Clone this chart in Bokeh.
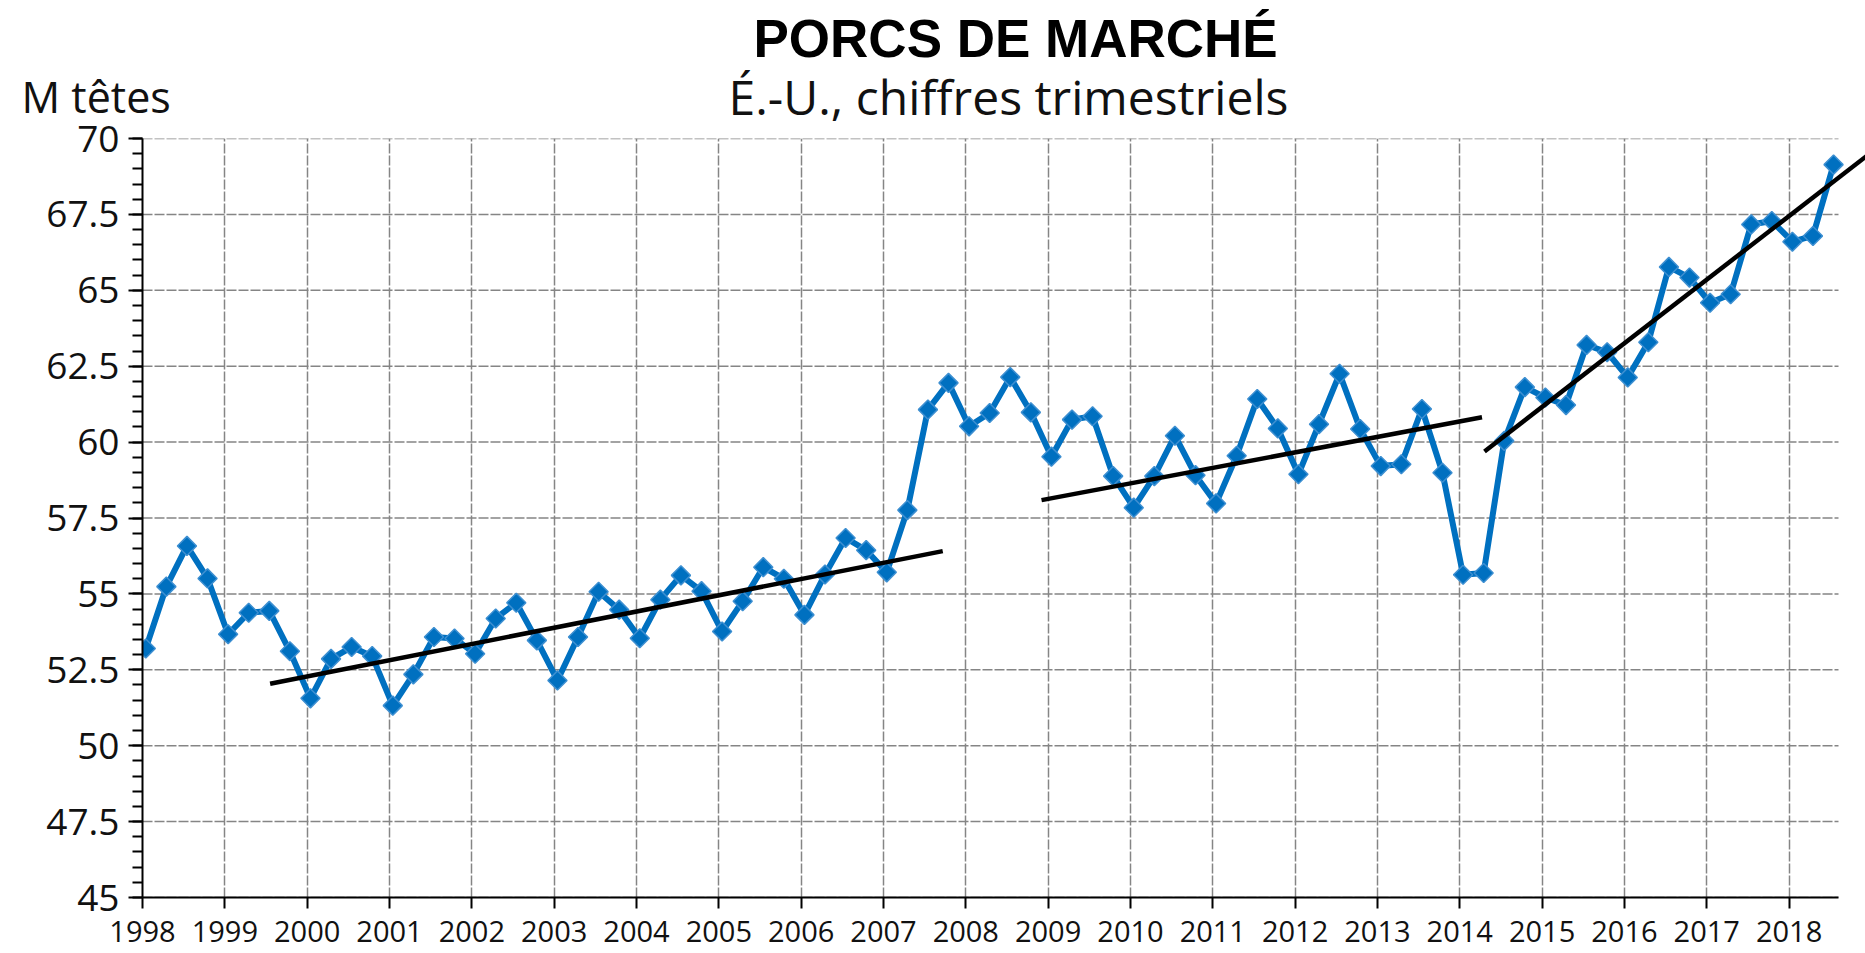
import math
from bokeh.plotting import figure
from bokeh.models import Range1d, FixedTicker, NumeralTickFormatter, Title
from bokeh.embed import file_html
from bokeh.resources import INLINE

# ---------------- data ----------------
start_year = 1998
# US market hogs inventory, million head, quarterly (1998 Q1 .. 2018 Q3)
market_hogs = [
    53.20, 55.24, 56.58, 55.51,   # 1998
    53.67, 54.38, 54.44, 53.11,   # 1999
    51.56, 52.86, 53.25, 52.95,   # 2000
    51.32, 52.35, 53.58, 53.53,   # 2001
    53.03, 54.19, 54.71, 53.47,   # 2002
    52.15, 53.58, 55.07, 54.48,   # 2003
    53.54, 54.81, 55.61, 55.09,   # 2004
    53.76, 54.76, 55.88, 55.50,   # 2005
    54.31, 55.64, 56.84, 56.44,   # 2006
    55.71, 57.76, 61.07, 61.95,   # 2007
    60.52, 60.96, 62.14, 60.98,   # 2008
    59.52, 60.74, 60.85, 58.88,   # 2009
    57.84, 58.88, 60.21, 58.91,   # 2010
    57.98, 59.55, 61.42, 60.45,   # 2011
    58.94, 60.59, 62.25, 60.43,   # 2012
    59.21, 59.27, 61.09, 58.99,   # 2013
    55.63, 55.69, 60.04, 61.81,   # 2014
    61.47, 61.22, 63.20, 62.96,   # 2015
    62.13, 63.29, 65.77, 65.42,   # 2016
    64.59, 64.87, 67.17, 67.28,   # 2017
    66.60, 66.79, 69.14,          # 2018
]

# trend line segments (start year, start value, end year, end value)
trend_x0 = [1999.55, 2008.92, 2014.30]
trend_y0 = [52.04, 58.09, 59.69]
trend_x1 = [2007.72, 2014.27, 2018.94]
trend_y1 = [56.41, 60.82, 69.42]

year_ticks = list(range(1998, 2019))
value_ticks = [45, 47.5, 50, 52.5, 55, 57.5, 60, 62.5, 65, 67.5, 70]
value_minor_ticks = [45 + 0.5 * k for k in range(51)]

title_text = "PORCS DE MARCHÉ"
subtitle_text = "É.-U., chiffres trimestriels"
unit_text = "M têtes"

# quarter dates as fractional years (mid-first-month of each quarter)
quarter_x = [start_year + i * 0.25 + 0.04 for i in range(len(market_hogs))]

# ---------------- figure ----------------
axis_start, axis_end = 1998.0, 2018.6      # extent of the plotted axis
view_end = axis_end + 27 / 82.33           # frame runs on to the page edge

p = figure(
    width=1865, height=953, title=None,
    x_range=Range1d(axis_start, view_end), y_range=Range1d(45, 70),
    output_backend="svg", toolbar_location=None,
    min_border_left=142, min_border_right=0,
    min_border_top=0, min_border_bottom=56,
    background_fill_color="white", border_fill_color="white",
)
p.outline_line_color = None

# grids
grid_color = "#858585"
p.xgrid.ticker = FixedTicker(ticks=year_ticks)
p.xgrid.grid_line_color = grid_color
p.xgrid.grid_line_width = 1.5
p.xgrid.grid_line_dash = "10 2"
p.ygrid.visible = False
hgrid = p.segment(x0=[axis_start] * len(value_ticks), y0=value_ticks,
                  x1=[axis_end] * len(value_ticks), y1=value_ticks,
                  line_color=grid_color, line_width=1.5, line_dash="10 2")
hgrid.level = "underlay"

# data
blue = "#0070C0"
p.line(quarter_x, market_hogs, line_color=blue, line_width=6)
p.scatter(quarter_x, market_hogs, marker="square", size=13.5, angle=math.pi / 4,
          fill_color=blue, line_color="#3d8fd1", line_width=1.5)
p.segment(trend_x0, trend_y0, trend_x1, trend_y1, line_color="black", line_width=4.5)

# axes
xa = p.xaxis[0]
xa.ticker = FixedTicker(ticks=year_ticks)
xa.formatter = NumeralTickFormatter(format="0")
xa.bounds = (axis_start, axis_end)
xa.axis_line_color = "black"
xa.axis_line_width = 2
xa.major_tick_line_color = "black"
xa.major_tick_line_width = 2
xa.major_tick_out = 11
xa.major_tick_in = 0
xa.minor_tick_out = 0
xa.minor_tick_in = 0
xa.major_label_text_font = "Liberation Sans Narrow, Open Sans"
xa.major_label_text_font_size = "29px"
xa.major_label_text_color = "#111111"
xa.major_label_standoff = 12

ya = p.yaxis[0]
ya.ticker = FixedTicker(ticks=value_ticks, minor_ticks=value_minor_ticks)
ya.formatter = NumeralTickFormatter(format="0.[0]")
ya.axis_line_color = "black"
ya.axis_line_width = 2
ya.major_tick_line_color = "black"
ya.major_tick_line_width = 2
ya.minor_tick_line_color = "black"
ya.minor_tick_line_width = 2
ya.major_tick_out = 14
ya.major_tick_in = 0
ya.minor_tick_out = 10
ya.minor_tick_in = 0
ya.major_label_text_font = "Open Sans"
ya.major_label_text_font_size = "37px"
ya.major_label_text_color = "#111111"
ya.major_label_standoff = 9

# texts (stacked above the frame, nearest first)
p.add_layout(Title(text=subtitle_text, align="left", offset=586, vertical_align="bottom",
                   standoff=19.4, text_font="Open Sans", text_font_style="normal",
                   text_font_size="48px", text_color="#111111"), "above")
p.add_layout(Title(text=unit_text, align="left", offset=-121, vertical_align="bottom",
                   standoff=-146.6, text_font="Open Sans", text_font_style="normal",
                   text_font_size="43px", text_color="#111111"), "above")
p.add_layout(Title(text=title_text, align="left", offset=611, vertical_align="bottom",
                   standoff=-30.6, text_font="Liberation Sans", text_font_style="bold",
                   text_font_size="53px", text_color="black"), "above")
p.add_layout(Title(text=" ", align="left", vertical_align="bottom", standoff=6.4,
                   text_font="Open Sans", text_font_size="10px"), "above")

open("out.html", "w").write(file_html(p, INLINE))
